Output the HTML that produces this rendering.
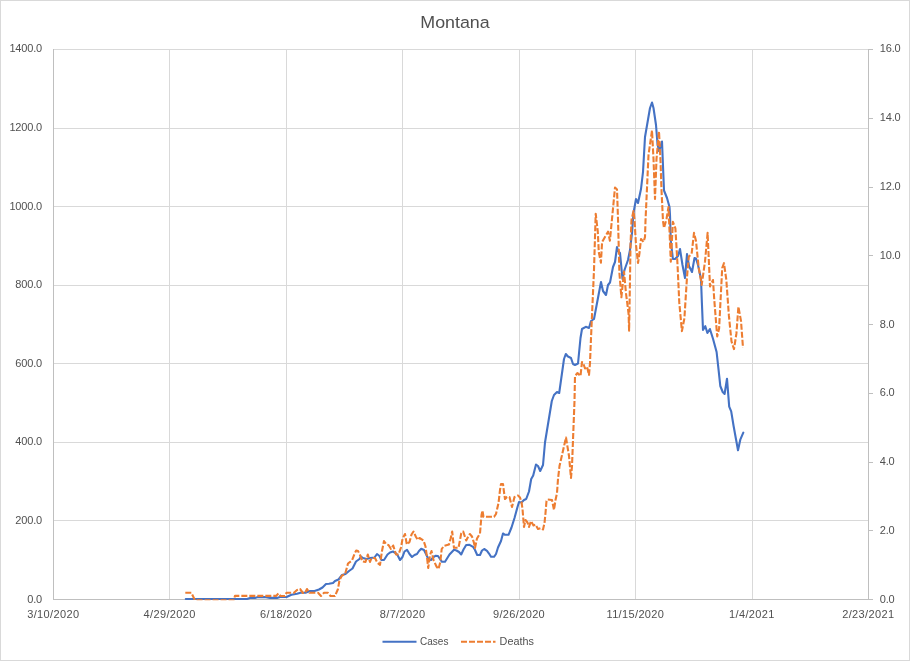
<!DOCTYPE html>
<html lang="en"><head><meta charset="utf-8"><title>Montana</title>
<style>
html,body{margin:0;padding:0;background:#fff;}
body{width:910px;height:661px;overflow:hidden;}
svg{display:block;}
text{font-family:"Liberation Sans",Arial,sans-serif;fill:#505050;}
.t{font-size:11px;}
.n{letter-spacing:-0.18px;}
.d{letter-spacing:0.36px;}
.ttl{font-size:16.8px;}
</style></head><body>
<svg width="910" height="661" viewBox="0 0 910 661">
<rect x="0" y="0" width="910" height="661" fill="#fff"/>
<rect x="0.5" y="0.5" width="909" height="660" fill="none" stroke="#D9D9D9" stroke-width="1"/>
<g stroke="#D9D9D9" stroke-width="1" fill="none" shape-rendering="crispEdges">
<line x1="53.5" y1="49.50" x2="868.5" y2="49.50"/>
<line x1="53.5" y1="128.07" x2="868.5" y2="128.07"/>
<line x1="53.5" y1="206.64" x2="868.5" y2="206.64"/>
<line x1="53.5" y1="285.21" x2="868.5" y2="285.21"/>
<line x1="53.5" y1="363.79" x2="868.5" y2="363.79"/>
<line x1="53.5" y1="442.36" x2="868.5" y2="442.36"/>
<line x1="53.5" y1="520.93" x2="868.5" y2="520.93"/>
<line x1="169.93" y1="49.5" x2="169.93" y2="599.5"/>
<line x1="286.36" y1="49.5" x2="286.36" y2="599.5"/>
<line x1="402.79" y1="49.5" x2="402.79" y2="599.5"/>
<line x1="519.21" y1="49.5" x2="519.21" y2="599.5"/>
<line x1="635.64" y1="49.5" x2="635.64" y2="599.5"/>
<line x1="752.07" y1="49.5" x2="752.07" y2="599.5"/>
</g>
<g stroke="#BFBFBF" stroke-width="1" fill="none" shape-rendering="crispEdges">
<line x1="53.5" y1="49.0" x2="53.5" y2="600.0"/>
<line x1="868.5" y1="49.0" x2="868.5" y2="600.0"/>
<line x1="53.0" y1="599.5" x2="869.0" y2="599.5"/>
<line x1="868.5" y1="49.50" x2="873.0" y2="49.50"/>
<line x1="868.5" y1="118.25" x2="873.0" y2="118.25"/>
<line x1="868.5" y1="187.00" x2="873.0" y2="187.00"/>
<line x1="868.5" y1="255.75" x2="873.0" y2="255.75"/>
<line x1="868.5" y1="324.50" x2="873.0" y2="324.50"/>
<line x1="868.5" y1="393.25" x2="873.0" y2="393.25"/>
<line x1="868.5" y1="462.00" x2="873.0" y2="462.00"/>
<line x1="868.5" y1="530.75" x2="873.0" y2="530.75"/>
<line x1="868.5" y1="599.50" x2="873.0" y2="599.50"/>
</g>
<g class="t n" text-anchor="end">
<text x="42.0" y="52">1400.0</text>
<text x="42.0" y="131">1200.0</text>
<text x="42.0" y="210">1000.0</text>
<text x="42.0" y="288">800.0</text>
<text x="42.0" y="367">600.0</text>
<text x="42.0" y="445">400.0</text>
<text x="42.0" y="524">200.0</text>
<text x="42.0" y="603">0.0</text>
</g>
<g class="t n" text-anchor="start">
<text x="879.8" y="52">16.0</text>
<text x="879.8" y="121">14.0</text>
<text x="879.8" y="190">12.0</text>
<text x="879.8" y="259">10.0</text>
<text x="879.8" y="328">8.0</text>
<text x="879.8" y="396">6.0</text>
<text x="879.8" y="465">4.0</text>
<text x="879.8" y="534">2.0</text>
<text x="879.8" y="603">0.0</text>
</g>
<g class="t d" text-anchor="middle">
<text x="53.3" y="617.6">3/10/2020</text>
<text x="169.7" y="617.6">4/29/2020</text>
<text x="286.2" y="617.6">6/18/2020</text>
<text x="402.6" y="617.6">8/7/2020</text>
<text x="519.0" y="617.6">9/26/2020</text>
<text x="635.4" y="617.6">11/15/2020</text>
<text x="751.9" y="617.6">1/4/2021</text>
<text x="868.3" y="617.6">2/23/2021</text>
</g>
<text class="ttl" x="420.3" y="28" textLength="69.4" lengthAdjust="spacingAndGlyphs">Montana</text>
<clipPath id="pc"><rect x="0" y="0" width="910" height="600.25"/></clipPath>
<g clip-path="url(#pc)">
<polyline fill="none" stroke="#4472C4" stroke-width="2.1" stroke-linejoin="round" stroke-linecap="round" points="185.8,599.0 247.0,599.0 250.0,598.0 255.0,597.9 258.0,597.1 266.0,597.1 270.0,597.9 277.0,597.9 280.0,597.0 286.5,597.0 291.5,594.8 297.0,593.8 300.5,592.7 305.5,592.7 310.0,591.0 314.5,591.0 319.0,589.5 322.5,587.5 326.0,584.0 329.0,583.8 333.0,583.0 335.0,581.0 338.5,579.5 342.0,575.0 345.5,574.0 349.0,571.0 352.5,568.5 356.0,561.5 359.5,559.0 361.0,556.5 363.0,558.0 366.5,559.0 370.0,558.0 374.5,557.5 377.0,554.0 379.5,556.0 381.5,560.0 384.0,560.0 387.5,554.5 390.0,552.5 393.0,551.5 395.5,553.0 397.5,555.0 400.0,560.0 402.5,557.0 404.5,551.5 407.0,549.8 409.5,554.0 412.0,557.0 414.5,555.0 417.0,554.0 419.0,551.0 421.2,548.8 424.0,550.0 426.5,555.0 428.5,559.5 431.0,560.0 433.5,557.0 435.5,555.8 438.0,556.0 440.0,559.0 442.0,561.8 445.0,561.8 449.5,554.5 454.0,549.8 456.5,550.5 459.0,552.0 461.2,554.5 463.5,549.5 466.2,545.0 469.5,544.8 473.0,546.8 475.0,550.0 477.2,555.0 480.0,555.0 482.0,550.5 484.2,549.0 487.0,550.8 489.0,553.5 491.0,556.8 494.0,556.8 496.0,554.0 498.0,547.5 501.0,541.0 503.0,533.5 505.0,534.8 508.5,534.8 511.5,527.5 514.5,518.0 517.5,507.0 519.0,502.0 521.5,502.5 524.0,500.0 526.2,499.0 529.0,491.5 531.2,479.0 533.2,475.5 536.0,464.5 538.0,466.0 540.2,471.0 543.0,465.0 545.0,442.5 551.8,401.0 554.0,395.0 557.0,392.0 559.2,393.0 564.0,359.0 565.8,354.0 568.0,356.5 571.0,358.0 573.0,364.0 575.0,365.0 578.0,363.5 580.5,338.0 582.0,329.0 585.8,326.8 589.0,328.0 591.0,321.0 594.0,319.0 601.0,282.0 603.0,291.0 606.0,295.0 608.0,285.0 610.0,282.5 613.0,267.0 615.0,262.0 617.0,247.0 618.0,251.0 620.0,253.0 622.5,279.0 624.5,270.0 628.0,260.0 630.0,250.0 632.0,233.0 633.5,213.0 636.0,199.0 638.0,203.0 641.0,189.0 643.0,172.0 645.0,137.0 650.0,108.0 652.0,102.5 653.5,108.0 656.0,125.0 657.5,144.0 659.0,151.0 660.5,147.0 662.0,141.5 664.0,190.5 667.0,198.0 669.5,207.0 670.0,215.0 670.8,241.0 672.9,259.0 675.0,259.0 678.0,256.0 680.0,249.0 682.5,265.0 685.0,278.0 687.0,254.0 689.0,266.0 692.0,272.0 694.5,258.0 696.0,258.5 698.0,265.0 701.0,279.0 701.9,303.0 703.0,330.0 705.3,326.2 707.4,333.0 709.9,329.0 713.0,338.8 716.6,352.0 718.6,370.2 720.3,386.0 722.7,392.0 724.6,394.0 727.0,378.7 729.2,406.6 731.2,411.4 733.6,426.0 736.0,439.3 738.0,450.2 740.4,439.3 743.3,432.7"/>
<polyline fill="none" stroke="#ED7D31" stroke-width="2.1" stroke-linejoin="round" stroke-dasharray="6 2" points="185.3,592.7 191.3,592.7 195.0,600.3 233.6,600.3 235.0,595.9 276.0,595.9 278.5,593.5 280.5,596.0 285.0,596.0 286.5,592.8 294.0,592.8 297.0,590.0 300.0,589.0 303.0,593.0 305.0,593.0 307.0,589.0 309.5,592.8 318.0,592.8 321.0,596.0 324.0,592.8 328.0,592.8 330.5,596.0 335.0,596.0 338.0,589.0 339.5,580.0 342.0,575.5 345.0,574.5 348.0,563.5 352.0,560.5 354.5,554.0 356.2,550.5 358.0,551.0 360.0,555.0 362.5,561.5 365.5,562.0 367.8,554.5 370.0,562.0 371.5,558.0 375.0,558.0 377.5,563.0 380.0,564.8 382.0,551.0 384.0,541.0 386.5,544.5 388.5,545.0 391.0,549.0 393.2,545.5 396.0,554.5 398.5,554.5 401.0,547.5 402.5,539.0 405.0,534.0 406.8,544.5 409.5,542.0 411.5,534.5 413.5,531.5 416.0,537.0 418.0,540.0 419.5,538.0 423.5,540.5 425.5,546.5 427.0,557.0 428.2,568.0 430.0,555.0 431.5,551.0 433.5,560.0 436.5,566.5 438.5,569.0 440.3,562.0 441.7,549.0 444.0,545.8 449.0,544.5 450.5,539.0 452.2,531.5 453.5,544.0 454.0,547.8 458.5,547.8 460.0,540.0 461.2,533.5 463.2,531.5 465.0,537.0 466.2,540.5 468.0,537.0 469.8,534.0 472.0,536.5 474.0,543.0 475.0,548.0 477.0,538.5 480.0,533.5 481.0,521.0 481.5,515.0 482.5,510.5 483.5,516.8 494.0,516.8 496.0,514.0 498.5,503.0 500.0,490.0 501.0,484.0 503.0,484.0 504.0,492.0 505.0,499.0 507.0,497.0 509.5,497.0 512.0,507.0 514.5,497.0 518.0,495.5 520.0,497.5 521.5,502.0 522.5,509.0 523.5,521.0 524.0,527.0 525.5,520.0 527.5,522.5 529.0,527.0 531.0,521.0 533.5,525.5 535.5,524.5 538.0,529.0 541.0,528.0 543.0,529.5 544.5,523.0 545.5,513.0 546.5,501.0 547.5,499.5 552.0,500.0 554.0,510.0 555.5,500.0 557.0,493.0 558.0,479.0 559.5,466.0 566.0,437.5 569.0,456.0 571.0,478.0 572.0,466.0 574.5,401.0 575.0,376.0 577.5,373.0 580.5,376.0 582.0,362.0 583.5,364.0 585.0,368.5 587.0,366.5 589.0,375.0 590.0,363.0 591.0,338.0 594.0,270.0 595.7,213.7 597.8,231.7 598.8,252.3 600.9,262.6 602.1,242.0 608.0,231.7 609.9,240.7 612.0,219.0 615.0,187.5 617.0,189.5 618.0,219.0 619.4,272.9 621.4,297.3 624.0,271.6 626.0,293.4 628.6,314.0 629.1,330.7 630.0,279.0 630.5,245.0 631.5,220.0 633.5,211.0 634.5,220.0 636.0,245.0 638.0,263.0 639.5,253.0 641.0,239.0 643.5,242.0 645.0,237.0 645.5,221.0 648.5,155.0 652.0,130.5 653.5,159.0 655.0,199.0 656.5,159.0 659.0,131.5 660.5,161.0 661.5,190.0 663.0,221.0 664.0,228.0 666.5,219.0 668.5,207.0 670.8,261.7 672.9,221.9 675.4,228.3 677.5,264.3 679.3,302.9 681.9,331.1 684.4,318.3 687.0,277.1 688.8,256.6 691.6,254.0 694.0,232.9 696.0,241.1 698.6,266.9 701.7,284.9 705.0,261.7 707.6,232.9 710.0,286.5 713.0,280.0 714.3,300.3 717.2,336.5 719.1,328.6 722.2,268.0 724.0,263.2 726.3,279.7 728.9,315.7 731.5,341.4 734.0,349.1 736.4,333.7 738.4,306.7 741.0,320.9 743.0,347.9"/>
</g>
<line x1="382.5" y1="641.7" x2="416.5" y2="641.7" stroke="#4472C4" stroke-width="2.1"/>
<text class="t" x="420" y="645" textLength="28.4" lengthAdjust="spacingAndGlyphs">Cases</text>
<line x1="461" y1="641.7" x2="495.5" y2="641.7" stroke="#ED7D31" stroke-width="2.1" stroke-dasharray="6 2"/>
<text class="t" x="499.6" y="645" textLength="34.2" lengthAdjust="spacingAndGlyphs">Deaths</text>
</svg></body></html>
